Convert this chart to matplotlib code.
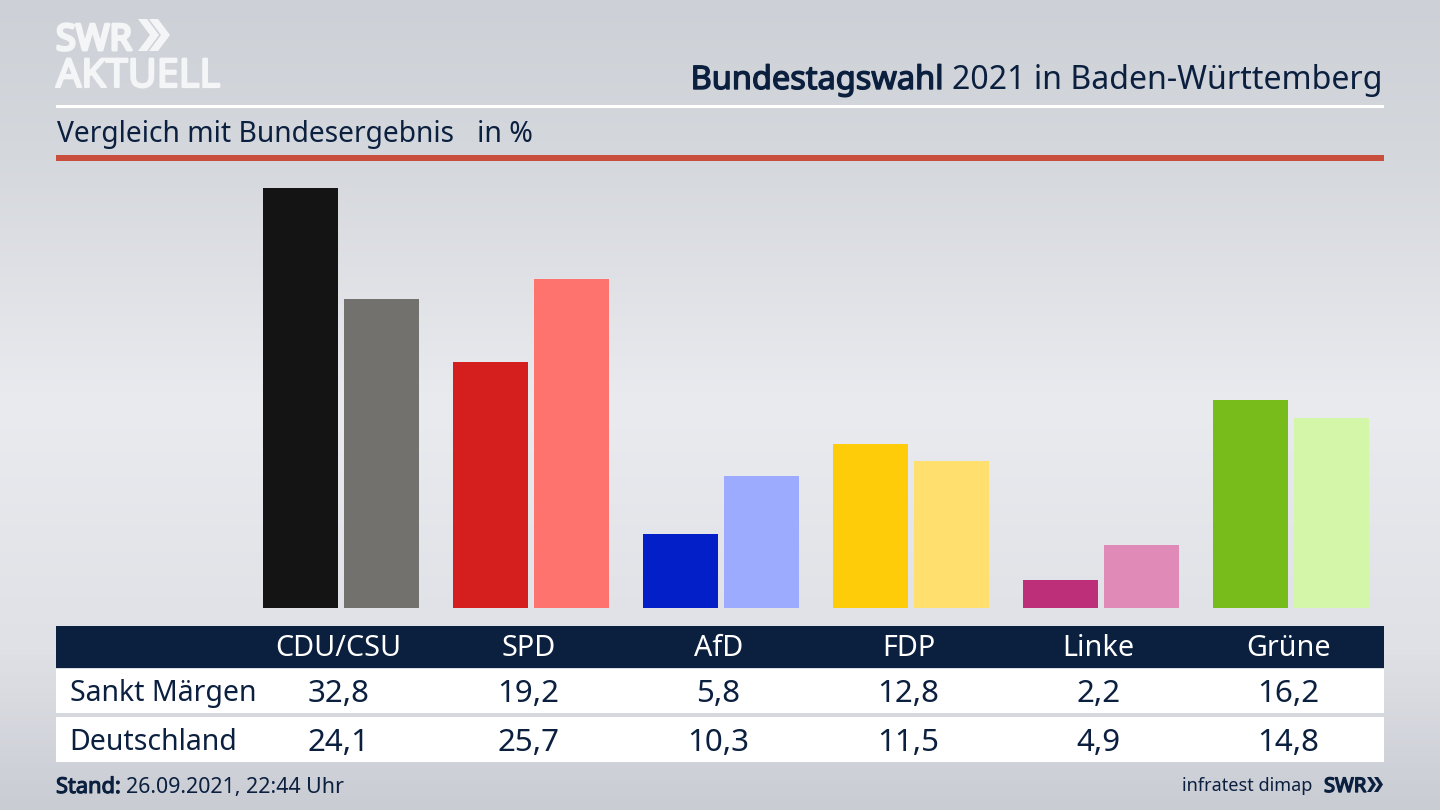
import numpy as np
import matplotlib
matplotlib.use("Agg")
import matplotlib.pyplot as plt
import matplotlib.patheffects as pe
from matplotlib.colors import LinearSegmentedColormap
from matplotlib.patches import Rectangle, Polygon

parties = ["CDU/CSU", "SPD", "AfD", "FDP", "Linke", "Grüne"]
local_name = "Sankt Märgen"
national_name = "Deutschland"
local_values = [32.8, 19.2, 5.8, 12.8, 2.2, 16.2]
national_values = [24.1, 25.7, 10.3, 11.5, 4.9, 14.8]
local_labels = ["32,8", "19,2", "5,8", "12,8", "2,2", "16,2"]
national_labels = ["24,1", "25,7", "10,3", "11,5", "4,9", "14,8"]
local_colors = ["#141414", "#d51f1f", "#0320c8", "#ffcc0a", "#bd2f78", "#78bc1b"]
national_colors = ["#73716e", "#ff736e", "#9dabff", "#ffe06f", "#e08ab8", "#d3f6a9"]

NAVY = "#0b1f3f"
LOGO = "#f4f5f6"
plt.rcParams["font.family"] = "Noto Sans"

W, H = 1440, 810
fig = plt.figure(figsize=(W / 100, H / 100), dpi=100)

# page background and furniture, in pixel coordinates
bg = fig.add_axes([0, 0, 1, 1])
bg.axis("off")
cmap = LinearSegmentedColormap.from_list(
    "bg", [(0, "#cdd0d6"), (0.2, "#d5d8dd"), (0.5, "#eaebef"), (0.8, "#dfe1e6"), (1, "#c9ccd3")]
)
grad = np.linspace(0, 1, 256).reshape(-1, 1)
bg.imshow(grad, cmap=cmap, extent=(0, W, H, 0), aspect="auto", vmin=0, vmax=1)
bg.set_xlim(0, W)
bg.set_ylim(H, 0)

def rect(x0, y0, x1, y1, color):
    bg.add_patch(Rectangle((x0, y0), x1 - x0, y1 - y0, facecolor=color, edgecolor="none"))

def bold(txt, width, color):
    txt.set_path_effects([pe.withStroke(linewidth=width, foreground=color)])
    return txt

rect(56, 104.5, 1384, 107.5, "white")
rect(56, 155, 1384, 160.5, "#c94f3d")
rect(56, 626, 1384, 668, NAVY)
rect(56, 668.5, 1384, 713, "white")
rect(56, 717, 1384, 762, "white")

# logo
bold(bg.text(56, 50, "SWR", color=LOGO, fontsize=26, va="baseline", ha="left"), 2.2, LOGO)
bold(bg.text(56, 87, "AKTUELL", color=LOGO, fontsize=28.5, va="baseline", ha="left"), 1.6, LOGO)

def chevrons(x, ytop, ybot, w, t, gap, color):
    ym = (ytop + ybot) / 2
    for k in range(2):
        x0 = x + k * gap
        bg.add_patch(Polygon([(x0, ytop), (x0 + t, ytop), (x0 + t + w, ym), (x0 + t, ybot), (x0, ybot), (x0 + w, ym)],
                             closed=True, facecolor=color, edgecolor="none"))

chevrons(138, 19, 51, 12, 9, 11, LOGO)
chevrons(1367, 777, 792, 5, 4, 7, NAVY)

# titles
r = fig.canvas.get_renderer()
t2 = bg.text(1383, 89, "2021 in Baden-Württemberg", color=NAVY, fontsize=23.1, ha="right", va="baseline")
x_left = bg.transData.inverted().transform(t2.get_window_extent(r))[0][0]
bold(bg.text(x_left - 9, 89, "Bundestagswahl", color=NAVY, fontsize=23.4, ha="right", va="baseline"), 1.0, NAVY)
bg.text(57, 142, "Vergleich mit Bundesergebnis", color=NAVY, fontsize=20.3, ha="left", va="baseline")
bg.text(477, 142, "in %", color=NAVY, fontsize=20.5, ha="left", va="baseline")

# bars
ax = fig.add_axes([56 / W, 1 - 608 / H, (1384 - 56) / W, (608 - 170) / H])
ax.patch.set_alpha(0)
step, first = 190.0, 341.2
ax.set_xlim((56 - first) / step, (1384 - first) / step)
ax.set_ylim(0, 438 / 12.82)
ax.axis("off")
x = np.arange(len(parties))
bw, off = 75 / step, 40.4 / step
ax.bar(x - off, local_values, width=bw, color=local_colors)
ax.bar(x + off, national_values, width=bw, color=national_colors)

# table
for i, p in enumerate(parties):
    cx = 338.5 + 190 * i
    bg.text(cx, 656, p, color="white", fontsize=20.7, ha="center", va="baseline")
    bg.text(cx, 702, local_labels[i], color=NAVY, fontsize=22.5, ha="center", va="baseline")
    bg.text(cx, 751, national_labels[i], color=NAVY, fontsize=22.5, ha="center", va="baseline")
bg.text(70, 701, local_name, color=NAVY, fontsize=20.5, ha="left", va="baseline")
bg.text(69.5, 750, national_name, color=NAVY, fontsize=20.5, ha="left", va="baseline")

# footer
bold(bg.text(56, 793, "Stand:", color=NAVY, fontsize=15.7, ha="left", va="baseline"), 0.8, NAVY)
bg.text(126, 793, "26.09.2021, 22:44 Uhr", color=NAVY, fontsize=15.4, ha="left", va="baseline")
bg.text(1312, 791, "infratest dimap", color=NAVY, fontsize=13, ha="right", va="baseline")
bold(bg.text(1324, 792, "SWR", color=NAVY, fontsize=14.5, ha="left", va="baseline"), 1.0, NAVY)

fig.savefig("out.png", dpi=100)
